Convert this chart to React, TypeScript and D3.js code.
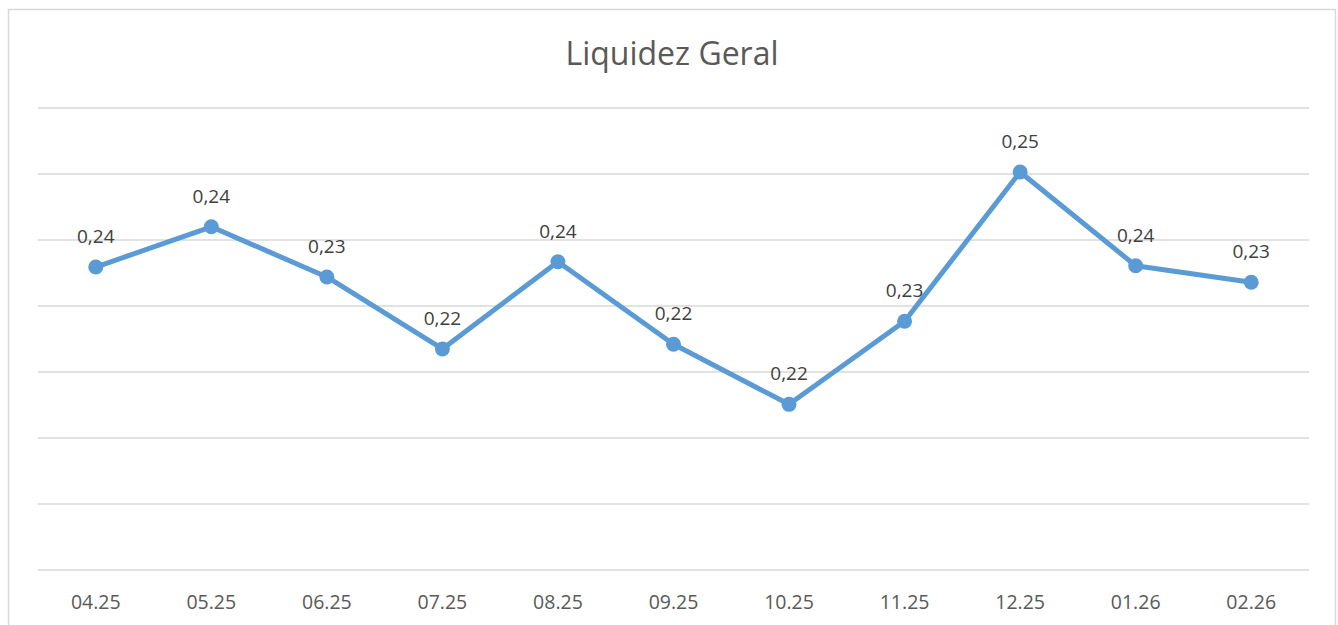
import React, { useRef, useEffect } from 'react'
import * as d3 from 'd3'

const categories = ['04.25', '05.25', '06.25', '07.25', '08.25', '09.25', '10.25', '11.25', '12.25', '01.26', '02.26']
const values = [0.2359, 0.242, 0.2344, 0.2235, 0.2367, 0.2242, 0.2151, 0.2277, 0.2503, 0.2361, 0.2336]
const yTicks = [0.19, 0.2, 0.21, 0.22, 0.23, 0.24, 0.25, 0.26]

export default function App() {
  const svgRef = useRef<SVGSVGElement>(null)

  useEffect(() => {
    if (!svgRef.current) return
    const svg = d3.select(svgRef.current)
    svg.selectAll('*').remove()

    const font = '"Open Sans", Calibri, sans-serif'

    // outer border
    svg.append('rect')
      .attr('x', 8.5).attr('y', 9.5)
      .attr('width', 1327).attr('height', 630)
      .attr('fill', '#fff').attr('stroke', '#d9d9d9').attr('stroke-width', 1.5)

    svg.append('text')
      .attr('x', 672).attr('y', 65)
      .attr('text-anchor', 'middle')
      .attr('font-family', font).attr('font-size', 32)
      .attr('fill', '#595959')
      .text('Liquidez Geral')

    const x = d3.scaleBand().domain(categories).range([38, 1309])
    const y = d3.scaleLinear().domain([0.19, 0.26]).range([570, 108])

    // grid
    svg.append('g')
      .selectAll('line')
      .data(yTicks)
      .join('line')
      .attr('x1', 38).attr('x2', 1309)
      .attr('y1', d => y(d)).attr('y2', d => y(d))
      .attr('stroke', '#d9d9d9').attr('stroke-width', 1.5)

    // x labels
    svg.append('g')
      .selectAll('text')
      .data(categories)
      .join('text')
      .attr('x', d => x(d)! + x.bandwidth() / 2)
      .attr('y', 609)
      .attr('text-anchor', 'middle')
      .attr('font-family', font).attr('font-size', 19.5)
      .attr('fill', '#595959')
      .text(d => d)

    const cx = (i: number) => x(categories[i])! + x.bandwidth() / 2

    const line = d3.line<number>()
      .x((_, i) => cx(i))
      .y(d => y(d))

    svg.append('path')
      .datum(values)
      .attr('d', line)
      .attr('fill', 'none')
      .attr('stroke', '#5b9bd5').attr('stroke-width', 5)
      .attr('stroke-linejoin', 'round')

    svg.append('g')
      .selectAll('circle')
      .data(values)
      .join('circle')
      .attr('cx', (_, i) => cx(i))
      .attr('cy', d => y(d))
      .attr('r', 7.5)
      .attr('fill', '#5b9bd5')

    svg.append('g')
      .selectAll('text')
      .data(values)
      .join('text')
      .attr('x', (_, i) => cx(i))
      .attr('y', d => y(d) - 24)
      .attr('text-anchor', 'middle')
      .attr('font-family', font).attr('font-size', 19)
      .attr('fill', '#404040')
      .text(d => d.toFixed(2).replace('.', ','))
  }, [])

  return (
    <svg ref={svgRef} width={1338} height={625}
      style={{ position: 'absolute', left: 0, top: 0, background: '#fff' }} />
  )
}
